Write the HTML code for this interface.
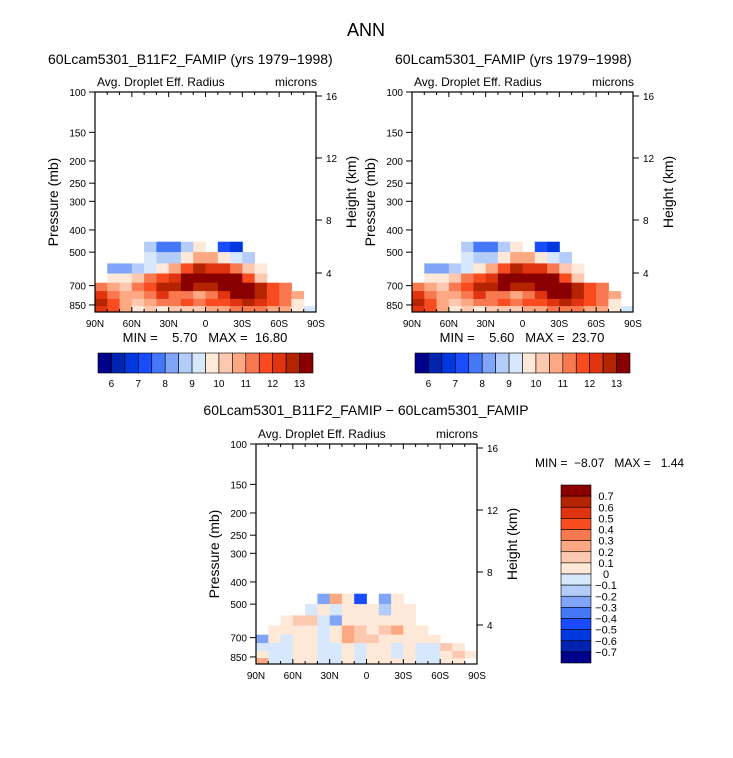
<!DOCTYPE html>
<html><head><meta charset="utf-8"><style>
body{margin:0;background:#fff}
svg{display:block;font-family:"Liberation Sans",sans-serif}
svg text{white-space:pre}
</style></head><body>
<svg id="chart" width="733" height="758" viewBox="0 0 733 758" xmlns="http://www.w3.org/2000/svg" xml:space="preserve">
<text x="366" y="36" font-size="18" text-anchor="middle">ANN</text>
<g id="g"></g>
</svg>
<script>
const lats = ["90N","60N","30N","0","30S","60S","90S"];
const pTicks = [100,150,200,250,300,400,500,700,850];
const hTicks = [16,12,8,4];
const rowTops = [450,500,560,620,680,740,800,860];
const rowBottom = 912;
const cbTop = ["6","7","8","9","10","11","12","13"];
const cbDiff = ["0.7","0.6","0.5","0.4","0.3","0.2","0.1","0","\u22120.1","\u22120.2","\u22120.3","\u22120.4","\u22120.5","\u22120.6","\u22120.7"];
const colors = ["#00008c","#0024b0","#0038e0","#1a4cff","#4478f8","#80a4f8","#b4ccfa","#d8e8fc","#fee8d8","#fcc8b0","#fca882","#f87850","#f84c20","#e03410","#b42400","#8a0000"];
const N = null;
const dataA = [
[N,N,N,N,8.7,7.7,7.8,8.7,9.7,N,7.2,6.7,N,N,N,N,N,N],
[N,N,N,N,9.2,8.7,8.7,9.7,10.7,10.7,9.7,9.2,8.7,N,N,N,N,N],
[N,8.2,8.2,8.7,9.2,9.7,10.7,11.7,12.7,12.2,12.2,11.2,10.2,9.7,N,N,N,N],
[N,9.7,9.7,10.2,11.2,11.7,12.2,13.5,13.5,13.5,13.5,13.2,11.7,10.2,N,N,N,N],
[11.2,10.7,10.2,11.2,11.7,12.7,12.7,13.2,12.7,12.7,13.5,13.5,13.5,12.7,11.7,11.2,N,N],
[12.2,11.2,10.7,10.7,11.2,12.2,11.2,11.2,10.7,11.2,12.2,13.5,13.5,12.7,11.7,11.2,10.7,N],
[12.7,11.7,10.7,10.2,10.7,11.2,11.2,11.7,11.2,11.7,11.7,12.2,12.7,12.2,11.7,11.2,9.7,N],
[12.2,11.7,10.7,9.7,10.2,9.7,10.2,10.2,10.2,10.7,10.7,11.2,11.2,11.2,10.7,10.7,9.7,9.2]];
const dataB = [
[N,N,N,N,8.7,7.7,7.8,8.7,9.7,N,7.2,6.7,N,N,N,N,N,N],
[N,N,N,N,9.2,8.7,8.7,9.7,10.7,10.7,9.7,9.2,8.7,N,N,N,N,N],
[N,8.2,8.2,8.7,9.2,9.7,10.7,11.7,12.7,12.2,12.2,11.2,10.2,9.7,N,N,N,N],
[N,9.7,9.7,10.2,11.2,11.7,12.2,13.5,13.5,13.5,13.5,13.2,11.7,10.2,N,N,N,N],
[11.2,10.7,10.2,11.2,11.7,12.7,12.7,13.2,12.7,12.7,13.5,13.5,13.5,12.7,11.7,11.2,N,N],
[12.2,11.2,10.7,10.7,11.2,12.2,11.2,11.2,10.7,11.2,12.2,13.5,13.5,12.7,11.7,11.2,10.7,N],
[12.7,11.7,10.7,10.2,10.7,11.2,11.2,11.7,11.2,11.7,11.7,12.2,12.7,12.2,11.7,11.2,9.7,N],
[12.2,11.7,10.7,9.7,10.2,9.7,10.2,10.2,10.2,10.7,10.7,11.2,11.2,11.2,10.7,10.7,9.7,9.2]];
const dataD = [
[N,N,N,N,N,-0.25,0.25,0.05,-0.45,N,-0.25,0.05,N,N,N,N,N,N],
[N,N,N,N,-0.05,0.05,-0.05,0.05,0.05,0.05,-0.15,0.05,0.05,N,N,N,N,N],
[N,N,0.05,0.15,0.15,-0.05,-0.25,0.05,0.05,0.05,0.05,0.05,0.05,N,N,N,N,N],
[N,0.05,0.05,0.05,0.05,-0.05,0.05,0.25,0.15,0.05,0.15,0.25,0.05,0.05,N,N,N,N],
[-0.25,0.05,-0.05,0.05,0.05,-0.05,0.05,0.25,0.15,0.15,0.05,0.05,0.05,0.05,0.05,N,N,N],
[-0.05,-0.05,-0.05,0.05,0.05,-0.05,-0.05,0.05,-0.05,0.05,0.05,-0.05,0.05,-0.05,-0.05,0.15,0.05,N],
[0.05,-0.05,-0.05,0.05,0.05,-0.05,-0.05,0.05,-0.05,0.05,0.05,-0.05,0.05,-0.05,-0.05,0.05,0.15,0.05],
[0.25,-0.05,-0.05,0.05,0.05,-0.05,-0.05,0.05,-0.05,0.05,0.05,0.05,0.05,-0.05,-0.05,0.05,0.05,N]];

const g = document.getElementById('g');
const NS = "http://www.w3.org/2000/svg";
function mk(tag, attrs, txt){const e=document.createElementNS(NS,tag);for(const k in attrs)e.setAttribute(k,attrs[k]);if(txt!==undefined)e.textContent=txt;g.appendChild(e);return e;}
const W=221,H=220,B=99.5;
function py(y0,p){return y0+B*Math.log(p/100);}
// height axis: fitted scale (km -> px from frame top)
function hy(y0,h){return y0+4+(16-h)*15.5-(h<8?(8-h)*2.25:0);}
function lx(x0,i){return x0+W*i/18;}
function idxTop(v){return Math.max(0,Math.min(15,Math.floor((v-6)/0.5)+1));}
function idxDiff(v){return Math.max(0,Math.min(15,Math.floor((v+0.7)/0.1+1e-9)+1));}

function panel(x0,y0,data,idxf,pname){
  for(let r=0;r<rowTops.length;r++){
    const yt=py(y0,rowTops[r]);
    const yb=Math.min(y0+H,py(y0,r+1<rowTops.length?rowTops[r+1]:rowBottom));
    for(let c=0;c<18;c++){
      const v=data[r][c]; if(v===null)continue;
      const e=mk('rect',{x:lx(x0,c).toFixed(1),y:yt.toFixed(1),width:(W/18+0.4).toFixed(1),height:(yb-yt+0.4).toFixed(1),fill:colors[idxf(v)]});
      
      
    }
  }
  const box=mk('rect',{x:x0,y:y0,width:W,height:H,fill:'none',stroke:'#000','stroke-width':1.2});
  
  
  for(let i=0;i<=18;i++){const x=lx(x0,i);const big=i%3===0;
    mk('line',{x1:x,x2:x,y1:y0+H,y2:y0+H-(big?5:3),stroke:'#000'});
    mk('line',{x1:x,x2:x,y1:y0,y2:y0+(big?5:3),stroke:'#000'});}
  lats.forEach((t,i)=>{const e=mk('text',{x:lx(x0,i*3),y:y0+H+15,'font-size':10,'text-anchor':'middle'},t);
    
    });
  pTicks.forEach(p=>{const y=py(y0,p);mk('line',{x1:x0-6,x2:x0,y1:y,y2:y,stroke:'#000'});
    const e=mk('text',{x:x0-9,y:y+4,'font-size':10,'text-anchor':'end'},String(p));
    
    });
  hTicks.forEach(h=>{const y=hy(y0,h);mk('line',{x1:x0+W,x2:x0+W+6,y1:y,y2:y,stroke:'#000'});
    const e=mk('text',{x:x0+W+10,y:y+4,'font-size':10},String(h));
    
    });
  let t=mk('text',{x:x0+2,y:y0-6,'font-size':12},'Avg. Droplet Eff. Radius');
  
  
  t=mk('text',{x:x0+W+1,y:y0-6,'font-size':12,'text-anchor':'end'},'microns');
  
  
  t=mk('text',{x:0,y:0,'font-size':14,'text-anchor':'middle',transform:`translate(${x0-37},${y0+110}) rotate(-90)`},'Pressure (mb)');
  
  
  t=mk('text',{x:0,y:0,'font-size':14,'text-anchor':'middle',transform:`translate(${x0+W+40},${y0+100}) rotate(-90)`},'Height (km)');
  
  
}
function hbar(x0,y0,pname){
  const w=(313-98)/16;
  for(let i=0;i<16;i++){const e=mk('rect',{x:x0+i*w,y:y0,width:w,height:20,fill:colors[i],stroke:'#000','stroke-width':0.6});
    
    }
  cbTop.forEach((t,i)=>{const e=mk('text',{x:x0+(1+2*i)*w,y:y0+34,'font-size':10,'text-anchor':'middle'},t);
    
    });
}
function title(x,y,s,name,anchor,fs){const e=mk('text',{x:x,y:y,'font-size':fs||14,'text-anchor':anchor||'middle'},s);
  
  }

title(48,64,'60Lcam5301_B11F2_FAMIP (yrs 1979\u22121998)','left-panel-title','start');
title(395,64,'60Lcam5301_FAMIP (yrs 1979\u22121998)','right-panel-title','start');
panel(95,92,dataA,idxTop,'left');
panel(412,92,dataB,idxTop,'right');
title(205,342,'MIN =    5.70   MAX =  16.80','left-min-max','middle',13);
title(522,342,'MIN =    5.60   MAX =  23.70','right-min-max','middle',13);
hbar(98,353,'left');
hbar(415,353,'right');
title(366,415,'60Lcam5301_B11F2_FAMIP \u2212 60Lcam5301_FAMIP','diff-panel-title');
(function(){const e=mk('text',{x:535,y:467,'font-size':12},'MIN =  \u22128.07   MAX =   1.44');
  
  })();
panel(256,444,dataD,idxDiff,'diff');
const vh=(663-485)/16;
for(let i=0;i<16;i++){const e=mk('rect',{x:561,y:485+i*vh,width:30,height:vh,fill:colors[15-i],stroke:'#000','stroke-width':0.6});
  
  }
cbDiff.forEach((t,i)=>{const e=mk('text',{x:606,y:485+(i+1)*vh+4,'font-size':11,'text-anchor':'middle'},t);
  
  });
</script>
</body></html>
